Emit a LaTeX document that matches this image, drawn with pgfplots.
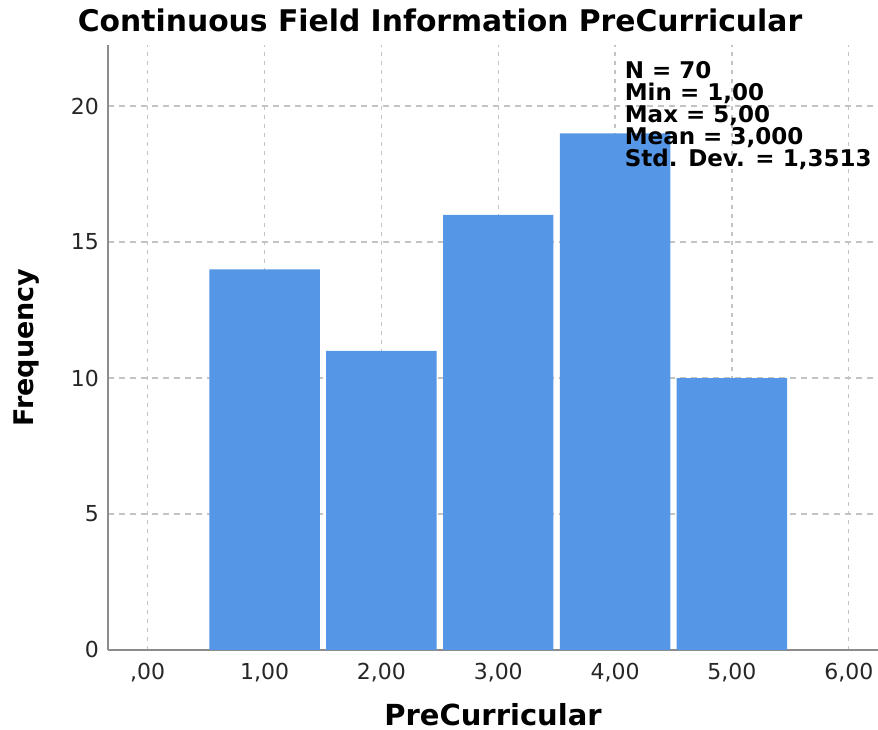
\documentclass[border=0pt]{standalone}
\usepackage{pgfplots}
\pgfplotsset{compat=1.18}
\usepackage{fontspec}
\setmainfont{DejaVu Sans}
\definecolor{barblue}{RGB}{85,150,230}
\definecolor{axgray}{RGB}{140,140,140}
\definecolor{gridgray}{RGB}{195,195,195}
\begin{document}
\begin{tikzpicture}
\begin{axis}[
  name=ax,
  scale only axis,
  width=385pt, height=302.5pt,
  xmin=-0.34, xmax=6.25,
  ymin=0, ymax=22.25,
  axis lines*=left,
  axis line style={axgray, line width=0.8pt},
  xtick={0,1,2,3,4,5,6},
  xticklabels={{,00},{1,00},{2,00},{3,00},{4,00},{5,00},{6,00}},
  ytick={0,5,10,15,20},
  major tick length=0pt,
  tick style={draw=none},
  xmajorgrids, ymajorgrids,
  x grid style={gridgray, line width=0.7pt, dash pattern=on 2pt off 2.5pt},
  y grid style={gridgray, line width=0.7pt, dash pattern=on 3pt off 2.5pt},
  ticklabel style={font=\fontsize{11}{12}\selectfont, text=black!85},
  /pgf/number format/assume math mode=true,
  xticklabel style={yshift=-3pt},
  yticklabel style={xshift=-1pt},
  xlabel={\textbf{PreCurricular}},
  ylabel={\textbf{Frequency}},
  xlabel style={font=\fontsize{14.5}{15}\selectfont, yshift=-4pt},
  ylabel style={font=\fontsize{13.5}{15}\selectfont, yshift=9pt},
  clip=false,
]
\addplot[ybar, bar width=0.945, fill=barblue, draw=none]
  coordinates {(1,14) (2,11) (3,16) (4,19) (5,10)};
\node[anchor=north west, align=left, inner sep=0pt,
      font=\bfseries\fontsize{11.5}{11}\selectfont]
  at (axis cs:4.08,21.65)
  {N = 70\\Min = 1,00\\Max = 5,00\\Mean = 3,000\\Std. Dev. = 1,3513};
\coordinate (bl) at (rel axis cs:0,0);
\coordinate (tr) at (rel axis cs:1,1);
\end{axis}
\pgfresetboundingbox
\path ([xshift=-54pt,yshift=-40pt]bl) rectangle ([yshift=22.5pt]tr);
\node[font=\bfseries\fontsize{14.9}{16}\selectfont, anchor=base]
  at ([xshift=-219pt,yshift=6.5pt]tr) {Continuous Field Information PreCurricular};
\end{tikzpicture}
\end{document}
